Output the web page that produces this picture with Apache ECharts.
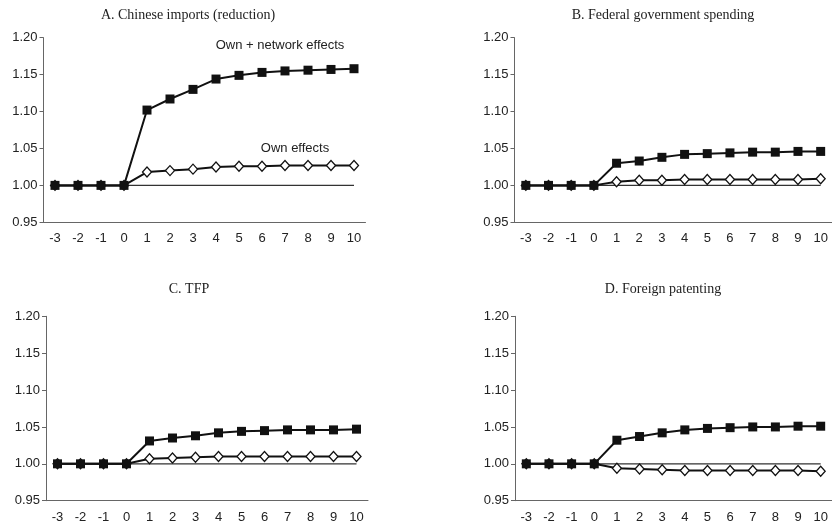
<!DOCTYPE html>
<html>
<head>
<meta charset="utf-8">
<script src="https://cdn.jsdelivr.net/npm/echarts@6/dist/echarts.min.js"></script>
<style>
html,body{margin:0;padding:0;background:#fff;}
#c{width:832px;height:526px;}
</style>
</head>
<body>
<div id="c"></div>
<script>
const categories = ['-3','-2','-1','0','1','2','3','4','5','6','7','8','9','10'];
const yTicks = [0.95, 1.00, 1.05, 1.10, 1.15, 1.20];
const panelTitles = ['A. Chinese imports (reduction)', 'B. Federal government spending', 'C. TFP', 'D. Foreign patenting'];
const seriesNames = ['Own + network effects', 'Own effects'];

const baseline = [1,1,1,1,1,1,1,1,1,1,1,1,1,1];

const networkA = [1.000,1.000,1.000,1.000,1.102,1.117,1.130,1.144,1.149,1.153,1.155,1.156,1.157,1.158];
const ownA     = [1.000,1.000,1.000,1.000,1.018,1.020,1.022,1.025,1.026,1.026,1.027,1.027,1.027,1.027];

const networkB = [1.000,1.000,1.000,1.000,1.030,1.033,1.038,1.042,1.043,1.044,1.045,1.045,1.046,1.046];
const ownB     = [1.000,1.000,1.000,1.000,1.005,1.007,1.007,1.008,1.008,1.008,1.008,1.008,1.008,1.009];

const networkC = [1.000,1.000,1.000,1.000,1.031,1.035,1.038,1.042,1.044,1.045,1.046,1.046,1.046,1.047];
const ownC     = [1.000,1.000,1.000,1.000,1.007,1.008,1.009,1.010,1.010,1.010,1.010,1.010,1.010,1.010];

const networkD = [1.000,1.000,1.000,1.000,1.032,1.037,1.042,1.046,1.048,1.049,1.050,1.050,1.051,1.051];
const ownD     = [1.000,1.000,1.000,1.000,0.994,0.993,0.992,0.991,0.991,0.991,0.991,0.991,0.991,0.990];

const panels = [
  {net: networkA, own: ownA},
  {net: networkB, own: ownB},
  {net: networkC, own: ownC},
  {net: networkD, own: ownD}
];

const layout = [
  {left: 43.5, top: 37.7, width: 322, height: 184.6, tx: 188, ty: 8},
  {left: 514.5, top: 37.7, width: 322, height: 184.6, tx: 663, ty: 8},
  {left: 46, top: 316.3, width: 322, height: 184.4, tx: 189, ty: 282},
  {left: 515, top: 316.3, width: 322, height: 184.4, tx: 663, ty: 282}
];

const axisColor = '#666';
const grids = [], xAxes = [], yAxes = [], series = [], titles = [];
panels.forEach((p, i) => {
  const L = layout[i];
  grids.push({left: L.left, top: L.top, width: L.width, height: L.height, containLabel: false});
  titles.push({
    text: panelTitles[i], left: L.tx, top: L.ty, textAlign: 'center', padding: 0,
    textStyle: {fontFamily: 'Liberation Serif', fontSize: 14, fontWeight: 'normal', color: '#222'}
  });
  xAxes.push({
    type: 'category', gridIndex: i, data: categories, boundaryGap: true,
    axisLine: {lineStyle: {color: axisColor, width: 1}},
    axisTick: {inside: true, length: 4, lineStyle: {color: axisColor}},
    axisLabel: {fontFamily: 'Liberation Sans', fontSize: 13, color: '#222', margin: 10, interval: 0},
    splitLine: {show: false}
  });
  yAxes.push({
    type: 'value', gridIndex: i, min: 0.95, max: 1.20, interval: 0.05,
    axisLine: {show: true, lineStyle: {color: axisColor, width: 1}},
    axisTick: {show: true, inside: false, length: 4, lineStyle: {color: axisColor}},
    axisLabel: {fontFamily: 'Liberation Sans', fontSize: 13, color: '#222', margin: 6,
      formatter: v => v.toFixed(2)},
    splitLine: {show: false}
  });
  series.push({
    type: 'line', xAxisIndex: i, yAxisIndex: i, data: baseline, symbol: 'none', z: 1,
    lineStyle: {color: '#333', width: 1.2}, silent: true, animation: false
  });
  series.push({
    name: seriesNames[1], type: 'line', xAxisIndex: i, yAxisIndex: i, data: p.own,
    symbol: 'diamond', symbolSize: [9, 10], z: 2,
    lineStyle: {color: '#111', width: 2},
    itemStyle: {color: '#fff', borderColor: '#111', borderWidth: 1.3},
    animation: false
  });
  series.push({
    name: seriesNames[0], type: 'line', xAxisIndex: i, yAxisIndex: i, data: p.net,
    symbol: 'rect', symbolSize: 9, z: 3,
    lineStyle: {color: '#111', width: 2},
    itemStyle: {color: '#111', borderColor: '#111', borderWidth: 0},
    animation: false
  });
});

const chart = echarts.init(document.getElementById('c'));
chart.setOption({
  backgroundColor: '#fff',
  animation: false,
  title: titles,
  grid: grids,
  xAxis: xAxes,
  yAxis: yAxes,
  series: series,
  graphic: [
    {type: 'text', x: 280, y: 45, style: {text: seriesNames[0], fontFamily: 'Liberation Sans', fontSize: 13, fill: '#222', textAlign: 'center', textVerticalAlign: 'middle'}},
    {type: 'text', x: 295, y: 148, style: {text: seriesNames[1], fontFamily: 'Liberation Sans', fontSize: 13, fill: '#222', textAlign: 'center', textVerticalAlign: 'middle'}}
  ]
});
</script>
</body>
</html>
